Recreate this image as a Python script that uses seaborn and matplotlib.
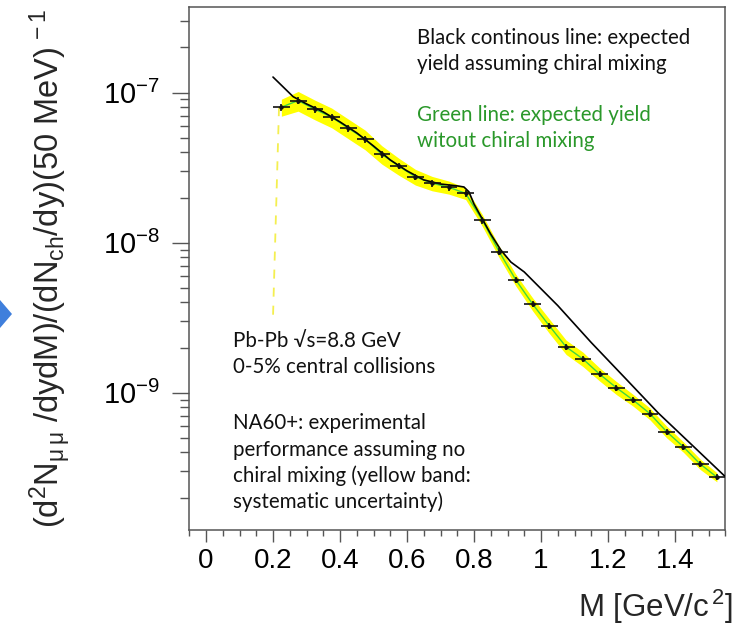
import numpy as np
import matplotlib
matplotlib.use("Agg")
import matplotlib.pyplot as plt
import seaborn as sns
from matplotlib.patches import Polygon
from matplotlib.ticker import MultipleLocator, LogLocator, NullFormatter

# ---------------- data ----------------
mass = [0.225, 0.275, 0.325, 0.375, 0.425, 0.475, 0.525, 0.575, 0.625,
        0.675, 0.725, 0.775, 0.825, 0.875, 0.925, 0.975, 1.025, 1.075,
        1.125, 1.175, 1.225, 1.275, 1.325, 1.375, 1.425, 1.475, 1.525]
yield_na60 = [8.0e-8, 8.85e-8, 7.75e-8, 6.86e-8, 5.79e-8, 4.89e-8, 3.88e-8,
              3.24e-8, 2.75e-8, 2.49e-8, 2.34e-8, 2.13e-8, 1.41e-8, 8.73e-9,
              5.64e-9, 3.90e-9, 2.79e-9, 2.02e-9, 1.68e-9, 1.33e-9, 1.08e-9,
              8.94e-10, 7.26e-10, 5.50e-10, 4.36e-10, 3.35e-10, 2.74e-10]
sys_unc = [0.13, 0.15, 0.15, 0.15, 0.15, 0.15, 0.14, 0.13, 0.12, 0.11,
           0.10, 0.09, 0.09, 0.09, 0.09, 0.10, 0.11, 0.11, 0.11, 0.10,
           0.10, 0.09, 0.09, 0.09, 0.08, 0.08, 0.07]
stat_unc = [0.05] * 27

chiral_mass = [0.20, 0.26, 0.30, 0.35, 0.40, 0.45, 0.50, 0.55, 0.60, 0.65,
               0.70, 0.75, 0.77, 0.785, 0.80, 0.85, 0.88, 0.91, 0.95, 1.05,
               1.15, 1.25, 1.35, 1.45, 1.55]
chiral_yield = [1.27e-7, 9.4e-8, 8.41e-8, 7.44e-8, 6.38e-8, 5.39e-8, 4.41e-8,
                3.56e-8, 3.01e-8, 2.62e-8, 2.46e-8, 2.39e-8, 2.35e-8, 2.18e-8,
                1.81e-8, 1.14e-8, 8.94e-9, 7.43e-9, 6.38e-9, 3.81e-9, 2.16e-9,
                1.26e-9, 7.33e-10, 4.50e-10, 2.76e-10]

dash_mass = [0.218, 0.200]
dash_yield = [8.0e-8, 3.2e-9]

x_ticks = [0, 0.2, 0.4, 0.6, 0.8, 1.0, 1.2, 1.4]
x_ticklabels = ["0", "0.2", "0.4", "0.6", "0.8", "1", "1.2", "1.4"]
y_ticks = [1e-9, 1e-8, 1e-7]
y_ticklabels = [r"$10^{-9}$", r"$10^{-8}$", r"$10^{-7}$"]

# ---------------- style ----------------
sns.set_theme(style="white")
plt.rcParams.update({
    "font.family": ["Liberation Sans", "DejaVu Sans"],
    "mathtext.fontset": "custom",
    "mathtext.rm": "Liberation Sans",
    "mathtext.it": "Liberation Sans",
    "mathtext.bf": "Liberation Sans:bold",
    "axes.edgecolor": "#555555",
    "axes.linewidth": 1.1,
    "xtick.color": "#555555",
    "ytick.color": "#555555",
    "xtick.labelcolor": "black",
    "ytick.labelcolor": "black",
})

W, H = 737, 629
fig = plt.figure(figsize=(W / 100, H / 100), dpi=100)
fig.patch.set_facecolor("white")
ax = fig.add_axes([189.25 / W, 1 - 530 / H, 536 / W, 523 / H])
ax.set_facecolor("white")
ax.set_yscale("log")

m = np.array(mass)
y = np.array(yield_na60)
s = np.array(sys_unc)

# yellow systematic band
ax.fill_between(m, y * (1 - s), y * (1 + s), color="#ffff00", lw=0, zorder=1)
# yellow dashed line
ax.plot(dash_mass, dash_yield, color="#f4ef50", lw=1.3, ls=(0, (5, 5)), zorder=1)
# green: no chiral mixing
sns.lineplot(x=mass, y=yield_na60, color="#3fd640", lw=1.0, ax=ax, sort=False,
             zorder=2, legend=False)
# black: chiral mixing
sns.lineplot(x=chiral_mass, y=chiral_yield, color="black", lw=1.2, ax=ax,
             sort=False, zorder=3, legend=False)
# data points
ax.errorbar(m, y, xerr=0.025, yerr=y * np.array(stat_unc), fmt="o", ms=2.2,
            color="#111111", elinewidth=1.2, capsize=0, zorder=4)

ax.set_xlim(-0.05, 1.55)
ax.set_ylim(1.217e-10, 3.72e-7)

ax.set_xticks(x_ticks)
ax.set_xticklabels(x_ticklabels)
ax.xaxis.set_minor_locator(MultipleLocator(0.05))
ax.set_yticks(y_ticks)
ax.set_yticklabels(y_ticklabels)
ax.yaxis.set_minor_locator(LogLocator(base=10, subs=np.arange(2, 10)))
ax.yaxis.set_minor_formatter(NullFormatter())

ax.tick_params(axis="x", which="major", direction="out", length=8.6, width=1.0,
               labelsize=20, pad=4, bottom=True, top=False)
ax.tick_params(axis="x", which="minor", direction="out", length=4.3, width=1.0,
               bottom=True, top=False)
ax.tick_params(axis="y", which="major", direction="out", length=12.2, width=1.0,
               labelsize=21, pad=9, left=True, right=False)
ax.tick_params(axis="y", which="minor", direction="out", length=6.8, width=1.0,
               left=True, right=False)
for sp in ax.spines.values():
    sp.set_visible(True)
    sp.set_color("#555555")

ax.set_xlabel("")
ax.set_ylabel("")

# axis titles
fig.text(733 / W, 1 - 617 / H, r"M [GeV/c$^{\,2}$]", ha="right", va="baseline",
         fontsize=22.5)
fig.text(50 / W, 1 - 268 / H,
         r"(d$^{2}$N$_{\mu\,\mu}$ /dydM)/(dN$_{ch}$/dy)(50 MeV)$^{\,-1}$",
         rotation=90, ha="center", va="center", fontsize=23.5)

# annotations
tf = ["Lato", "DejaVu Sans"]
fs = 14.8
fig.text(417 / W, 1 - 44 / H, "Black continous line: expected", color="#111111",
         fontsize=fs, family=tf, va="baseline")
fig.text(417 / W, 1 - 70 / H, "yield assuming chiral mixing", color="#111111",
         fontsize=fs, family=tf, va="baseline")
fig.text(417 / W, 1 - 121 / H, "Green line: expected yield", color="#2a982a",
         fontsize=fs, family=tf, va="baseline")
fig.text(417 / W, 1 - 147 / H, "witout chiral mixing", color="#2a982a",
         fontsize=fs, family=tf, va="baseline")

left_lines = [("Pb-Pb \u221as=8.8 GeV", 346.7), ("0-5% central collisions", 372.7),
              ("NA60+: experimental", 429), ("performance assuming no", 455.5),
              ("chiral mixing (yellow band:", 482), ("systematic uncertainty)", 508.5)]
for txt, yb in left_lines:
    fig.text(233 / W, 1 - yb / H, txt, color="#111111", fontsize=fs, family=tf,
             va="baseline")

# blue arrow fragment at the left edge
arrow = Polygon([[0, 1 - 300 / H], [12 / W, 1 - 314 / H], [0, 1 - 328 / H]],
                closed=True, transform=fig.transFigure, color="#3f7fdc", lw=0)
fig.patches.append(arrow)

fig.savefig("out.png", dpi=100, facecolor="white")
